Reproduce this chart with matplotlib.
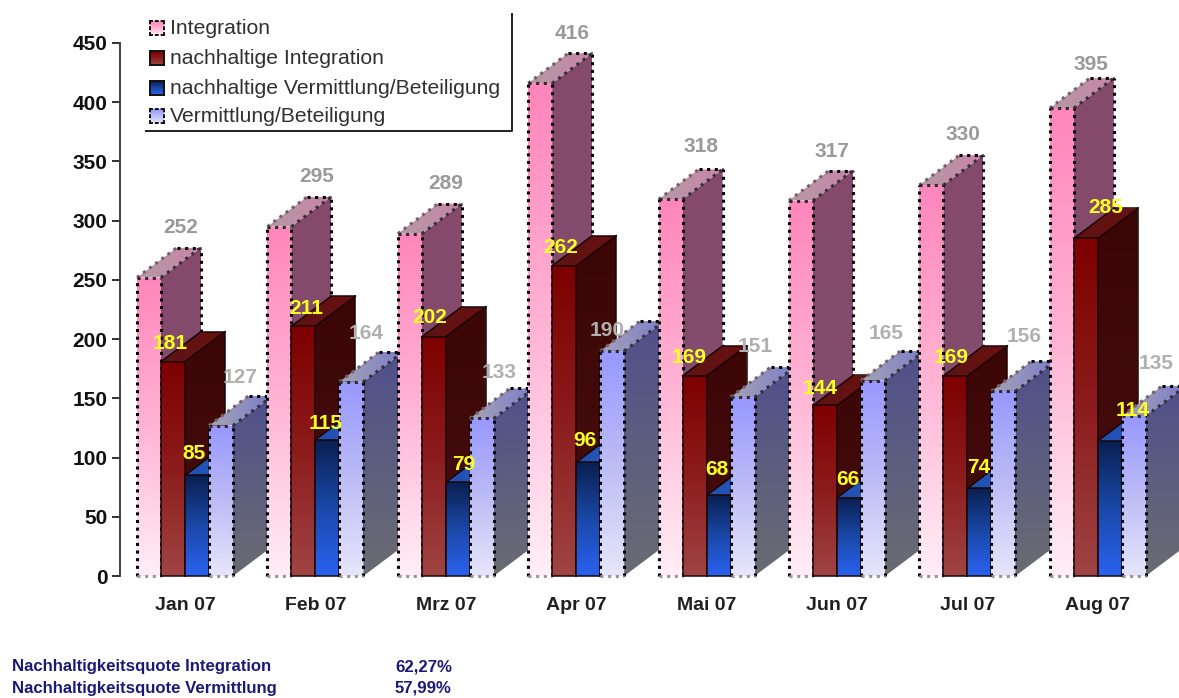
import numpy as np
import matplotlib
matplotlib.use("Agg")
import matplotlib.pyplot as plt
from matplotlib.colors import LinearSegmentedColormap
from matplotlib.lines import Line2D
from matplotlib.patches import Polygon

months = ["Jan 07", "Feb 07", "Mrz 07", "Apr 07", "Mai 07", "Jun 07", "Jul 07", "Aug 07"]
integration = [252, 295, 289, 416, 318, 317, 330, 395]
nachh_integration = [181, 211, 202, 262, 169, 144, 169, 285]
nachh_vermittlung = [85, 115, 79, 96, 68, 66, 74, 114]
vermittlung = [127, 164, 133, 190, 151, 165, 156, 135]
quote_names = ["Nachhaltigkeitsquote Integration", "Nachhaltigkeitsquote Vermittlung"]
quote_values = ["62,27%", "57,99%"]

# label nudges in pixels (right, up) from the default spot of each series
nudge_int = [(0, 1), (5, 1), (4, 1), (0, 1), (-2, 4), (-1, 0), (0, 2), (-3, -5)]
nudge_ni = [(-3, 0), (3, 0), (-4, 1), (-4, 0), (-5, 0), (-5, -1), (-4, 0), (20, 13)]
nudge_nv = [(-3, 4), (-2, -2), (6, 0), (-3, 4), (-2, 8), (-1, 0), (-1, 3), (23, 12)]
nudge_v = [(-1, 0), (-5, 0), (-3, -2), (-25, -28), (-7, 3), (-7, -1), (1, 7), (2, 5)]

plt.rcParams["font.family"] = ["Liberation Sans", "DejaVu Sans"]

W, H = 1179, 698
Y_SCALE = 533 / 450
X_SCALE = 130.4
BAR_W = 24 / X_SCALE
DEPTH_X = 40 / X_SCALE
DEPTH_Y = 30 / Y_SCALE

fig = plt.figure(figsize=(W / 100, H / 100), dpi=100, facecolor="white")
ax = fig.add_axes([120 / W, (H - 576) / H, (W - 120) / W, 533 / H])
ax.set_xlim(-65 / X_SCALE, (W - 185) / X_SCALE)
ax.set_ylim(0, 450)
ax.set_autoscale_on(False)

styles = [
    dict(front=["#ff86bc", "#ffb4d4", "#ffeef6"], side=["#85496b", "#80506e"],
         top=["#b39aa3", "#c984a8"], dotted=True),
    dict(front=["#7e0000", "#8c1c1c", "#a04444"], side=["#3d0606", "#460e0e"],
         top=["#5c1414", "#6a1010"], dotted=False),
    dict(front=["#0a1f50", "#1a48a8", "#2a62f0"], side=["#1c3c80", "#1c3c80"],
         top=["#1f4fb0", "#2a5cc0"], dotted=False),
    dict(front=["#9898ff", "#bcbcf6", "#e6e6fb"], side=["#50508c", "#6a6c72"],
         top=["#a4a4b4", "#7c7ccc"], dotted=True),
]


def gradient_face(points, colors, horizontal=False):
    # fill a polygon with a two or three stop gradient, clipped to its outline
    pts = np.array(points)
    cmap = LinearSegmentedColormap.from_list("face", colors)
    ramp = np.linspace(0, 1, 128)
    ramp = ramp.reshape(1, -1) if horizontal else ramp.reshape(-1, 1)
    im = ax.imshow(ramp, cmap=cmap, aspect="auto", interpolation="bilinear", origin="upper",
                   extent=[pts[:, 0].min(), pts[:, 0].max(), pts[:, 1].min(), pts[:, 1].max()],
                   zorder=3)
    clip = Polygon(points, closed=True, transform=ax.transData, facecolor="none", edgecolor="none")
    ax.add_patch(clip)
    im.set_clip_path(clip)


def edge(xs, ys, dotted, color="black"):
    if dotted:
        ax.plot(xs, ys, color=color, lw=2.2, ls=(0, (1, 1.5)), zorder=3, clip_on=False)
    else:
        ax.plot(xs, ys, color="#1a0505", lw=1.1, zorder=3, clip_on=False)


def draw_bar(x0, value, st):
    x1 = x0 + BAR_W
    dx, dy = DEPTH_X, DEPTH_Y
    gradient_face([(x1, 0), (x1 + dx, dy), (x1 + dx, value + dy), (x1, value)], st["side"])
    gradient_face([(x0, value), (x1, value), (x1 + dx, value + dy), (x0 + dx, value + dy)], st["top"], True)
    gradient_face([(x0, 0), (x1, 0), (x1, value), (x0, value)], st["front"])
    d = st["dotted"]
    edge([x1 + dx, x1 + dx], [dy, value + dy], d, "black" if d else "#1a0505")
    edge([x0 + dx, x1 + dx], [value + dy, value + dy], d)
    edge([x0, x0 + dx], [value, value + dy], d, "#77606a")
    edge([x1, x1 + dx], [value, value + dy], d, "#35303a")
    edge([x0, x0], [0, value], d)
    edge([x1, x1], [0, value], d)
    edge([x0, x1], [value, value], d, "#30282c")
    edge([x0, x1], [0, 0], d, "#a09098")


series = [integration, nachh_integration, nachh_vermittlung, vermittlung]
for i in range(len(months)):
    for s, values in enumerate(series):
        draw_bar(i + (s - 2) * BAR_W, values[i], styles[s])

# value labels go above everything else
label_sets = [
    (integration, nudge_int, 0, 32, 49, "#999999"),
    (nachh_integration, nudge_ni, 1, 0, 18, "#ffff1e"),
    (nachh_vermittlung, nudge_nv, 2, 0, 18, "#ffff1e"),
    (vermittlung, nudge_v, 3, 20, 48, "#b0b0b0"),
]
for values, nudges, s, off_x, off_y, color in label_sets:
    for i, v in enumerate(values):
        ax.annotate(str(v), xy=(i + (s - 2 + 0.5) * BAR_W, v), textcoords="offset pixels",
                    xytext=(off_x + nudges[i][0], off_y + nudges[i][1]), ha="center", va="center",
                    fontsize=15, fontweight="bold", color=color, zorder=6, annotation_clip=False)

ax.set_xticks(range(len(months)))
ax.set_xticklabels(months, fontsize=14, fontweight="bold", color="#202020")
ax.set_yticks(range(0, 451, 50))
ax.tick_params(axis="x", length=0, pad=15)
ax.tick_params(axis="y", length=6, width=1.4, pad=3, labelsize=15, color="#303030", labelcolor="#111111")
for lab in ax.get_yticklabels():
    lab.set_fontweight("bold")
for name in ["top", "right", "bottom"]:
    ax.spines[name].set_visible(False)
ax.spines["left"].set_linewidth(1.4)
ax.spines["left"].set_color("#404040")
ax.patch.set_alpha(0)


def fx(px):
    return px / W


def fy(py):
    return 1 - py / H


# legend frame only has a right and a bottom rule
fig.add_artist(Line2D([fx(146), fx(512), fx(512)], [fy(131), fy(131), fy(14)], color="#202020", lw=1.4))

legend_names = ["Integration", "nachhaltige Integration", "nachhaltige Vermittlung/Beteiligung",
                "Vermittlung/Beteiligung"]
legend_y = [28, 58, 88, 116]
for name, py, st in zip(legend_names, legend_y, styles):
    sw = fig.add_axes([fx(150), fy(py + 7), 14 / W, 14 / H], zorder=5)
    sw.imshow(np.linspace(0, 1, 32).reshape(-1, 1), aspect="auto",
              cmap=LinearSegmentedColormap.from_list("sw", st["front"]))
    sw.set_xticks([])
    sw.set_yticks([])
    for sp in sw.spines.values():
        if st["dotted"]:
            sp.set_linestyle((0, (1, 2)))
        sp.set_linewidth(1.4)
        sp.set_color("#101010")
    fig.text(fx(170), fy(py), name, fontsize=15.2, color="#303030", va="center", ha="left")

for py, name, val in zip([667, 688], quote_names, quote_values):
    fig.text(fx(12), fy(py), name, fontsize=12.1, fontweight="bold", color="#1a1a78", va="center")
    fig.text(fx(395), fy(py), val, fontsize=12.1, fontweight="bold", color="#1a1a78", va="center")

plt.savefig("out.png", dpi=100)
plt.close(fig)
